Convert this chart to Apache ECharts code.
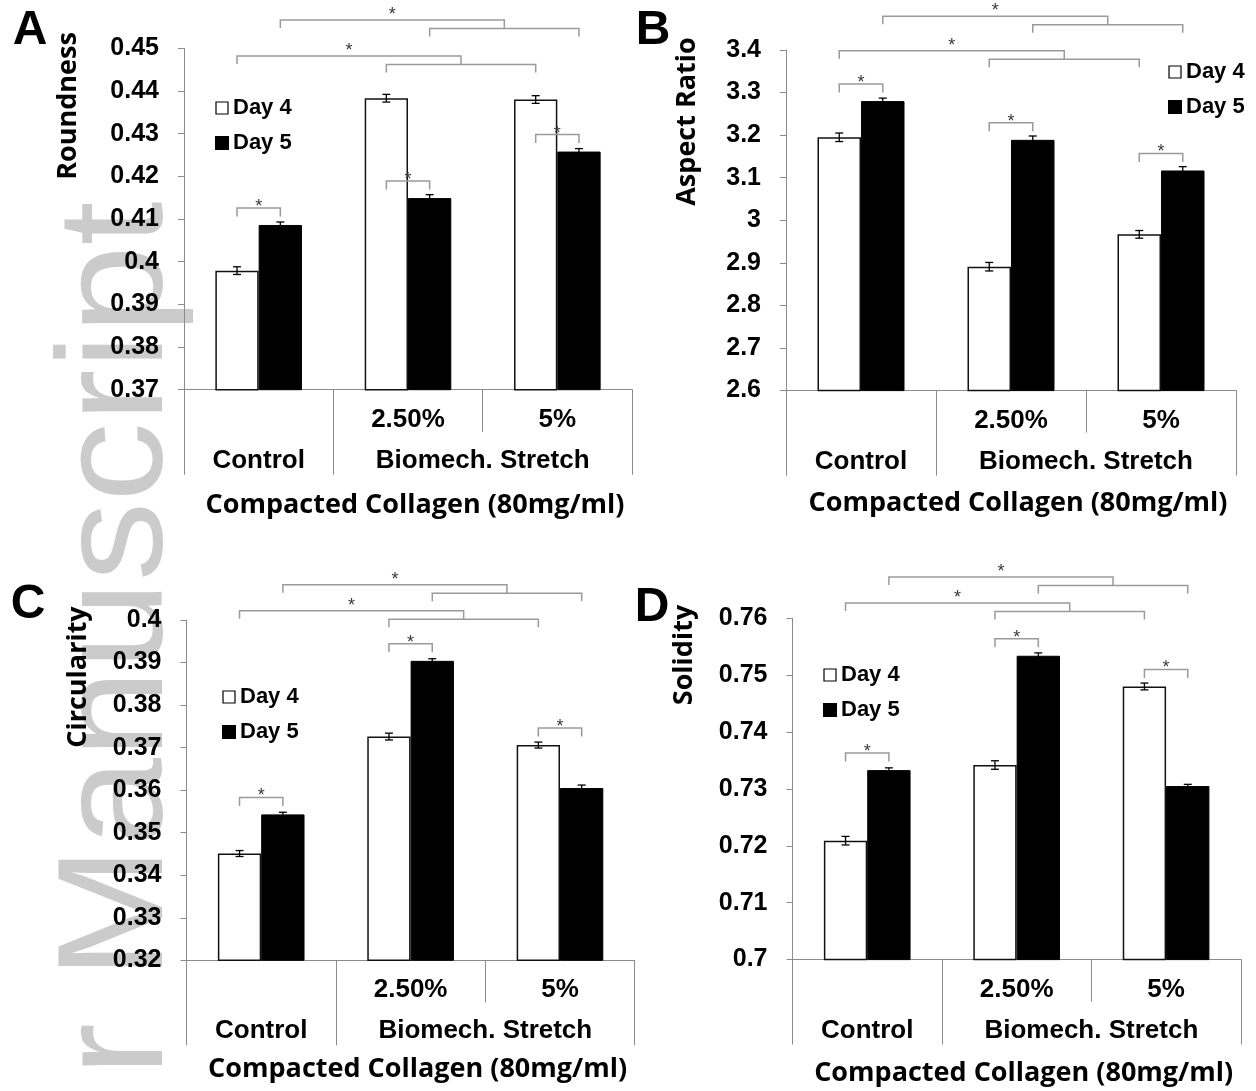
<!DOCTYPE html>
<html>
<head>
<meta charset="utf-8">
<script src="https://cdn.jsdelivr.net/npm/echarts@6/dist/echarts.min.js"></script>
<style>
  html, body { margin: 0; padding: 0; background: #ffffff; }
  #chart { width: 1256px; height: 1091px; }
</style>
</head>
<body>
<div id="chart"></div>
<script>
// ---- data ---------------------------------------------------------------
const categories = ['Control', '2.50%', '5%'];
const seriesNames = ['Day 4', 'Day 5'];
const groupLabels = ['Control', 'Biomech. Stretch'];
const xTitle = 'Compacted Collagen (80mg/ml)';

const roundnessDay4 = [0.3979, 0.4383, 0.4380];
const roundnessDay5 = [0.4086, 0.4149, 0.4258];
const roundnessErr4 = [0.0009, 0.0009, 0.0009];
const roundnessErr5 = [0.0007, 0.0008, 0.0007];
const roundnessRange = [0.37, 0.45, 0.01];

const aspectDay4 = [3.195, 2.891, 2.967];
const aspectDay5 = [3.280, 3.189, 3.117];
const aspectErr4 = [0.010, 0.010, 0.009];
const aspectErr5 = [0.007, 0.009, 0.009];
const aspectRange = [2.6, 3.4, 0.1];

const circularityDay4 = [0.3451, 0.3726, 0.3706];
const circularityDay5 = [0.3543, 0.3904, 0.3605];
const circularityErr4 = [0.0007, 0.0008, 0.0007];
const circularityErr5 = [0.0005, 0.0005, 0.0007];
const circularityRange = [0.32, 0.40, 0.01];

const solidityDay4 = [0.7209, 0.7342, 0.7480];
const solidityDay5 = [0.7333, 0.7534, 0.7305];
const solidityErr4 = [0.00075, 0.00075, 0.0006];
const solidityErr5 = [0.0004, 0.0005, 0.0003];
const solidityRange = [0.70, 0.76, 0.01];

// bar (0 = Day 4, 1 = Day 5) that each Day 4 vs Day 5 bracket is hung over
const roundnessPairOver = [1, 1, 1];
const aspectPairOver = [1, 1, 1];
const circularityPairOver = [1, 1, 0];
const solidityPairOver = [1, 1, 0];

// ---- layout & style -------------------------------------------------------
const GRAY = '#8c8c8c';
const BRACKET = '#9a9a9a';
const GAP = 0.42;
const TICK_FONT = 'Liberation Sans';
const TITLE_FONT = 'Open Sans';

const panels = [
  { letter: 'A', title: 'Roundness', d4: roundnessDay4, d5: roundnessDay5, e4: roundnessErr4, e5: roundnessErr5,
    range: roundnessRange, pairOver: roundnessPairOver,
    grid: { left: 184, top: 48.3, width: 448, height: 341.4 },
    letterAt: [30, 31], titleAt: [68, 106], legendAt: [215, 96], xTitleY: 505, groupBracketY: [7.7, -28.3] },
  { letter: 'B', title: 'Aspect Ratio', d4: aspectDay4, d5: aspectDay5, e4: aspectErr4, e5: aspectErr5,
    range: aspectRange, pairOver: aspectPairOver,
    grid: { left: 786, top: 50, width: 450, height: 340.6 },
    letterAt: [653, 31], titleAt: [687, 121.5], legendAt: [1168, 60], xTitleY: 503, groupBracketY: [0.7, -33.8] },
  { letter: 'C', title: 'Circularity', d4: circularityDay4, d5: circularityDay5, e4: circularityErr4, e5: circularityErr5,
    range: circularityRange, pairOver: circularityPairOver,
    grid: { left: 186.5, top: 620, width: 448.2, height: 340.3 },
    letterAt: [28, 605], titleAt: [78, 677], legendAt: [222, 685], xTitleY: 1069, groupBracketY: [-9.2, -35.3] },
  { letter: 'D', title: 'Solidity', d4: solidityDay4, d5: solidityDay5, e4: solidityErr4, e5: solidityErr5,
    range: solidityRange, pairOver: solidityPairOver,
    grid: { left: 792.5, top: 618.2, width: 448.3, height: 341.4 },
    letterAt: [652, 608], titleAt: [684, 655], legendAt: [823, 663], xTitleY: 1073, groupBracketY: [-15.2, -41.2] }
];

// distance from a category centre to the centre of one of its two bars
function barHalfOffset(api) {
  return api.size([1, 0])[0] * (1 - GAP) / 4;
}

function errorBarRenderer(params, api) {
  const cat = api.value(0), v = api.value(1), e = api.value(2), slot = api.value(3);
  const half = barHalfOffset(api);
  const x = api.coord([cat, v])[0] + (slot ? half : -half);
  const yHi = api.coord([cat, v + e])[1];
  const yLo = api.coord([cat, v - e])[1];
  const style = { stroke: '#000', lineWidth: 1.3 };
  return {
    type: 'group',
    children: [
      { type: 'line', shape: { x1: x, y1: yHi, x2: x, y2: yLo }, style },
      { type: 'line', shape: { x1: x - 4, y1: yHi, x2: x + 4, y2: yHi }, style },
      { type: 'line', shape: { x1: x - 4, y1: yLo, x2: x + 4, y2: yLo }, style }
    ]
  };
}

function star(x, y) {
  return {
    type: 'text',
    style: { text: '*', x: x, y: y + 5, align: 'center', verticalAlign: 'middle',
             fontFamily: TICK_FONT, fontSize: 18, fill: '#3a3a3a' }
  };
}

function bracketRenderer(panel) {
  return function (params, api) {
    const kind = api.value(0), a = api.value(1), b = api.value(2);
    const half = barHalfOffset(api);
    const base = panel.range[0];
    const barX = (cat, slot) => api.coord([cat, base])[0] + (slot ? half : -half);
    const lineStyle = { stroke: BRACKET, lineWidth: 1.5, fill: null };
    if (kind === 0) {
      // Day 4 vs Day 5 within one condition
      const cat = a, over = b;
      const v = over ? panel.d5[cat] : panel.d4[cat];
      const y = api.coord([cat, v])[1] - 17;
      const x1 = barX(cat, 0), x2 = barX(cat, 1);
      return {
        type: 'group',
        children: [
          { type: 'polyline', shape: { points: [[x1, y + 8.5], [x1, y], [x2, y], [x2, y + 8.5]] }, style: lineStyle },
          star((x1 + x2) / 2, y - 6)
        ]
      };
    }
    // control vs both stretch conditions, same day
    const slot = a, level = b;
    const U = params.coordSys.y + panel.groupBracketY[level];
    const xc = barX(0, slot), xl = barX(1, slot), xr = barX(2, slot);
    const xm = (xl + xr) / 2;
    return {
      type: 'group',
      children: [
        { type: 'polyline', shape: { points: [[xc, U + 8], [xc, U], [xm, U], [xm, U + 8.5]] }, style: lineStyle },
        { type: 'polyline', shape: { points: [[xl, U + 16.5], [xl, U + 8.5], [xr, U + 8.5], [xr, U + 16.5]] }, style: lineStyle },
        star((xc + xm) / 2, U - 10)
      ]
    };
  };
}

const option = {
  animation: false,
  backgroundColor: '#ffffff',
  grid: [], xAxis: [], yAxis: [], legend: [], series: [],
  graphic: [
    {
      type: 'text', x: 121, y: 1076, rotation: Math.PI / 2, scaleX: 1.06, z: -10,
      style: { text: 'r Manuscript', fontFamily: TICK_FONT, fontSize: 150, fill: '#cbcbcb',
               align: 'left', verticalAlign: 'middle' }
    }
  ]
};

panels.forEach(function (p, i) {
  option.grid.push(Object.assign({ containLabel: false }, p.grid));

  const labelFont = { fontFamily: TICK_FONT, fontWeight: 'bold', color: '#000' };

  option.xAxis.push({
    type: 'category', gridIndex: i, data: categories, position: 'bottom',
    axisLine: { show: true, onZero: false, lineStyle: { color: GRAY, width: 1 } },
    axisTick: { show: true, alignWithLabel: false, interval: 0, length: 42, lineStyle: { color: GRAY, width: 1 } },
    axisLabel: Object.assign({ interval: 0, margin: 17, fontSize: 26,
      formatter: function (v, idx) { return idx === 0 ? '' : v; } }, labelFont),
    splitLine: { show: false }
  });
  option.xAxis.push({
    type: 'value', gridIndex: i, min: 0, max: 3, position: 'bottom', offset: 0,
    axisLine: { show: false },
    axisTick: { show: true, customValues: [0, 1, 3], length: 85, lineStyle: { color: GRAY, width: 1 } },
    axisLabel: Object.assign({ customValues: [0.5, 2], margin: 58, fontSize: 26,
      formatter: function (v) { return v < 1 ? groupLabels[0] : groupLabels[1]; } }, labelFont),
    splitLine: { show: false }
  });
  option.yAxis.push({
    type: 'value', gridIndex: i, min: p.range[0], max: p.range[1], interval: p.range[2],
    axisLine: { show: true, lineStyle: { color: GRAY, width: 1 } },
    axisTick: { show: true, inside: false, length: 6, lineStyle: { color: GRAY, width: 1 } },
    axisLabel: Object.assign({ margin: 25, fontSize: 25 }, labelFont),
    splitLine: { show: false }
  });

  option.legend.push({
    orient: 'vertical', left: p.legendAt[0], top: p.legendAt[1], padding: 0,
    itemGap: 11, itemWidth: 12, itemHeight: 12, selectedMode: false,
    textStyle: { fontFamily: TICK_FONT, fontWeight: 'bold', fontSize: 22, color: '#000', lineHeight: 24 },
    data: [
      { name: seriesNames[0], icon: 'rect', itemStyle: { color: '#fff', borderColor: '#000', borderWidth: 1.2 } },
      { name: seriesNames[1], icon: 'rect', itemStyle: { color: '#000' } }
    ]
  });

  const xi = i * 2;
  option.series.push({
    name: seriesNames[0], type: 'bar', xAxisIndex: xi, yAxisIndex: i, data: p.d4,
    barGap: '0%', barCategoryGap: (GAP * 100) + '%', silent: true,
    itemStyle: { color: '#ffffff', borderColor: '#111', borderWidth: 1.5 }
  });
  option.series.push({
    name: seriesNames[1], type: 'bar', xAxisIndex: xi, yAxisIndex: i, data: p.d5,
    barGap: '0%', barCategoryGap: (GAP * 100) + '%', silent: true,
    itemStyle: { color: '#000000', borderColor: '#000', borderWidth: 1 }
  });

  const errData = [];
  categories.forEach(function (c, k) {
    errData.push([k, p.d4[k], p.e4[k], 0]);
    errData.push([k, p.d5[k], p.e5[k], 1]);
  });
  option.series.push({
    type: 'custom', xAxisIndex: xi, yAxisIndex: i, data: errData, clip: false, silent: true, z: 5,
    renderItem: errorBarRenderer
  });

  const brackets = [
    [0, 0, p.pairOver[0]], [0, 1, p.pairOver[1]], [0, 2, p.pairOver[2]],
    [1, 0, 0], [1, 1, 1]
  ];
  option.series.push({
    type: 'custom', xAxisIndex: xi, yAxisIndex: i, data: brackets, clip: false, silent: true, z: 5,
    renderItem: bracketRenderer(p)
  });

  option.graphic.push({
    type: 'text', x: p.letterAt[0], y: p.letterAt[1],
    style: { text: p.letter, fontFamily: TICK_FONT, fontWeight: 'bold', fontSize: 48, fill: '#000',
             align: 'center', verticalAlign: 'middle' }
  });
  option.graphic.push({
    type: 'text', x: p.titleAt[0], y: p.titleAt[1], rotation: Math.PI / 2,
    style: { text: p.title, fontFamily: TITLE_FONT, fontWeight: 'bold', fontSize: 27, fill: '#000',
             align: 'center', verticalAlign: 'middle' }
  });
  option.graphic.push({
    type: 'text', x: p.grid.left + p.grid.width / 2 + 7, y: p.xTitleY,
    style: { text: xTitle, fontFamily: TITLE_FONT, fontWeight: 'bold', fontSize: 27, fill: '#000',
             align: 'center', verticalAlign: 'middle' }
  });
});

const chart = echarts.init(document.getElementById('chart'), null, { renderer: 'canvas' });
chart.setOption(option);
</script>
</body>
</html>
